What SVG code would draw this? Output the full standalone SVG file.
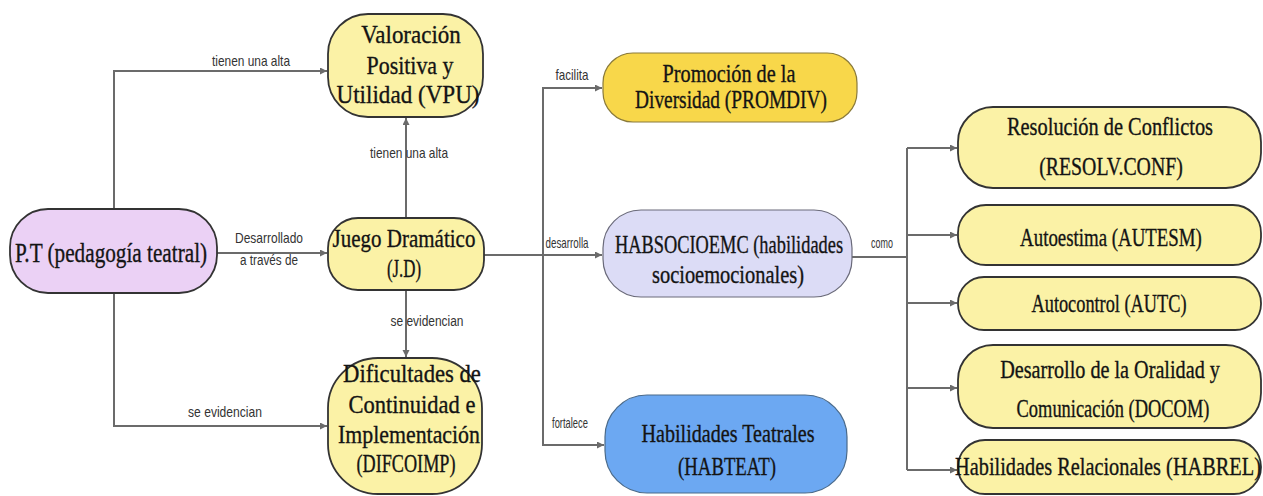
<svg xmlns="http://www.w3.org/2000/svg" width="1263" height="496" viewBox="0 0 1263 496">
<style>
.n{stroke:#333333;stroke-width:1.8}
.y{fill:#FBF2A6}
.t{font-family:"Liberation Serif",serif;font-size:26px;fill:#141414;stroke:#141414;stroke-width:0.35;text-anchor:middle}
.l{font-family:"Liberation Sans",Arial,sans-serif;font-size:14px;fill:#333;text-anchor:middle}
.c{fill:none;stroke:#6b6b6b;stroke-width:2}
</style>
<defs>
<marker id="ah" markerUnits="userSpaceOnUse" markerWidth="8" markerHeight="8" refX="7" refY="3.5" orient="auto">
<path d="M0,0 L7,3.5 L0,7 z" fill="#6b6b6b"/>
</marker>
</defs>
<rect width="1263" height="496" fill="#ffffff"/>
<g id="connectors">
<path class="c" d="M114,209 V71 H327" marker-end="url(#ah)"/>
<path class="c" d="M217,253 H327" marker-end="url(#ah)"/>
<path class="c" d="M114,293 V426 H327" marker-end="url(#ah)"/>
<path class="c" d="M406,218 V118" marker-end="url(#ah)"/>
<path class="c" d="M406,290 V357" marker-end="url(#ah)"/>
<path class="c" d="M484,255 H602" marker-end="url(#ah)"/>
<path class="c" d="M543,255 V88 H602" marker-end="url(#ah)"/>
<path class="c" d="M543,255 V445 H604" marker-end="url(#ah)"/>
<path class="c" d="M852,257 H907"/>
<path class="c" d="M907,148 V470"/>
<path class="c" d="M907,148 H957" marker-end="url(#ah)"/>
<path class="c" d="M907,235 H957" marker-end="url(#ah)"/>
<path class="c" d="M907,303 H957" marker-end="url(#ah)"/>
<path class="c" d="M907,388 H957" marker-end="url(#ah)"/>
<path class="c" d="M907,470 H957" marker-end="url(#ah)"/>
<text class="l" transform="translate(251,66) scale(0.85,1)">tienen una alta</text>
<text class="l" transform="translate(269,243) scale(0.857,1)">Desarrollado</text>
<text class="l" transform="translate(269,265) scale(0.837,1)">a través de</text>
<text class="l" transform="translate(225,417) scale(0.864,1)">se evidencian</text>
<text class="l" transform="translate(409,158) scale(0.85,1)">tienen una alta</text>
<text class="l" transform="translate(427,326) scale(0.853,1)">se evidencian</text>
<text class="l" transform="translate(572,80) scale(0.83,1)">facilita</text>
<text class="l" transform="translate(567,248) scale(0.70,1)">desarrolla</text>
<text class="l" transform="translate(570,428) scale(0.67,1)">fortalece</text>
<text class="l" transform="translate(882,248) scale(0.64,1)">como</text>
</g>
<g id="pt">
<rect class="n" x="10" y="209" width="207" height="84" rx="38" fill="#EBD1F5"/>
<text class="t" style="font-size:28px" transform="translate(111,262) scale(0.758,1)">P.T (pedagogía teatral)</text>
</g>
<g id="vpu">
<rect class="n y" x="328" y="14" width="155" height="103" rx="40"/>
<text class="t" transform="translate(411,43) scale(0.883,1)">Valoración</text>
<text class="t" transform="translate(410,74) scale(0.842,1)">Positiva y</text>
<text class="t" transform="translate(408,103) scale(0.888,1)">Utilidad (VPU)</text>
</g>
<g id="jd">
<rect class="n y" x="328" y="218" width="156" height="72" rx="30"/>
<text class="t" transform="translate(404,247) scale(0.808,1)">Juego Dramático</text>
<text class="t" transform="translate(404,277) scale(0.65,1)">(J.D)</text>
</g>
<g id="difcoimp">
<rect class="n y" x="328" y="358" width="154" height="136" rx="50"/>
<text class="t" transform="translate(412,382) scale(0.872,1)">Dificultades de</text>
<text class="t" transform="translate(412,413) scale(0.866,1)">Continuidad e</text>
<text class="t" transform="translate(409,443) scale(0.84,1)">Implementación</text>
<text class="t" transform="translate(406,472) scale(0.70,1)">(DIFCOIMP)</text>
</g>
<g id="promdiv">
<rect x="603" y="53" width="254" height="69" rx="30" fill="#F8D74A" stroke="#8a7a3a" stroke-width="1.2"/>
<text class="t" transform="translate(729,82) scale(0.78,1)">Promoción de la</text>
<text class="t" transform="translate(731,108) scale(0.745,1)">Diversidad (PROMDIV)</text>
</g>
<g id="habsocioemc">
<rect x="603" y="210" width="249" height="87" rx="38" fill="#DCDCF6" stroke="#6a6a7a" stroke-width="1.2"/>
<text class="t" transform="translate(729,253) scale(0.707,1)">HABSOCIOEMC (habilidades</text>
<text class="t" transform="translate(728,283) scale(0.786,1)">socioemocionales)</text>
</g>
<g id="habteat">
<rect x="605" y="395" width="242" height="98" rx="42" fill="#6CA8F2" stroke="#4a6a8a" stroke-width="1.2"/>
<text class="t" transform="translate(728,442) scale(0.774,1)">Habilidades Teatrales</text>
<text class="t" transform="translate(727,475) scale(0.721,1)">(HABTEAT)</text>
</g>
<g id="resolv">
<rect class="n y" x="958" y="107" width="303" height="81" rx="35"/>
<text class="t" transform="translate(1110,135) scale(0.784,1)">Resolución de Conflictos</text>
<text class="t" transform="translate(1111,175) scale(0.762,1)">(RESOLV.CONF)</text>
</g>
<g id="autesm">
<rect class="n y" x="958" y="205" width="303" height="60" rx="28"/>
<text class="t" transform="translate(1111,246) scale(0.726,1)">Autoestima (AUTESM)</text>
</g>
<g id="autc">
<rect class="n y" x="958" y="277" width="303" height="53" rx="26"/>
<text class="t" transform="translate(1109,312) scale(0.704,1)">Autocontrol (AUTC)</text>
</g>
<g id="docom">
<rect class="n y" x="958" y="345" width="303" height="83" rx="35"/>
<text class="t" transform="translate(1110,378) scale(0.777,1)">Desarrollo de la Oralidad y</text>
<text class="t" transform="translate(1113,417) scale(0.709,1)">Comunicación (DOCOM)</text>
</g>
<g id="habrel">
<rect class="n y" x="958" y="440" width="303" height="54" rx="27"/>
<text class="t" transform="translate(1108,475) scale(0.782,1)">Habilidades Relacionales (HABREL)</text>
</g>
</svg>
